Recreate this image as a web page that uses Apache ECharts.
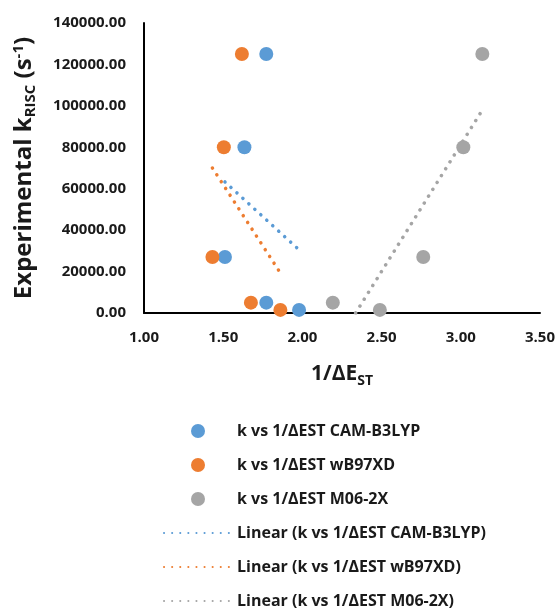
<!DOCTYPE html>
<html><head><meta charset="utf-8">
<script src="https://cdn.jsdelivr.net/npm/echarts@6/dist/echarts.min.js"></script>
<style>html,body{margin:0;padding:0;background:#fff}#c{width:560px;height:610px}</style>
</head><body><div id="c"></div>
<script>
const seriesNames = ['k vs 1/ΔEST CAM-B3LYP', 'k vs 1/ΔEST wB97XD', 'k vs 1/ΔEST M06-2X'];
const trendNames = ['Linear (k vs 1/ΔEST CAM-B3LYP)', 'Linear (k vs 1/ΔEST wB97XD)', 'Linear (k vs 1/ΔEST M06-2X)'];
const kValues = [125000, 80000, 27000, 5000, 1500];
const xCam = [1.772, 1.634, 1.511, 1.772, 1.979];
const xWb = [1.618, 1.504, 1.432, 1.675, 1.861];
const xM06 = [3.136, 3.016, 2.763, 2.192, 2.489];
const trendCamX = [1.511, 1.979], trendCamY = [63300, 30500];
const trendWbX = [1.432, 1.861], trendWbY = [70000, 19300];
const trendM06X = [2.336, 3.136], trendM06Y = [0, 98000];
const xTicks = [1.0, 1.5, 2.0, 2.5, 3.0, 3.5];
const yTicks = [0, 20000, 40000, 60000, 80000, 100000, 120000, 140000];
const colors = ['#5B9BD5', '#ED7D31', '#A5A5A5'];

const xs = [xCam, xWb, xM06];
const txs = [trendCamX, trendWbX, trendM06X];
const tys = [trendCamY, trendWbY, trendM06Y];
const font = 'Open Sans, Liberation Sans, sans-serif';
const ink = '#1a1a1a';

const series = [];
xs.forEach((arr, i) => {
  series.push({
    name: seriesNames[i], type: 'scatter', symbol: 'circle', symbolSize: 14,
    itemStyle: {color: colors[i], opacity: 1},
    data: arr.map((x, j) => [x, kValues[j]]), z: 3
  });
});
txs.forEach((arr, i) => {
  series.push({
    name: trendNames[i], type: 'line', symbol: 'none', showSymbol: false, clip: true,
    lineStyle: {color: colors[i], width: 3.5, type: [0.1, 8], cap: 'round'},
    itemStyle: {color: colors[i]},
    data: arr.map((x, j) => [x, tys[i][j]]), z: 2
  });
});

const legendData = seriesNames.map(n => ({name: n}))
  .concat(trendNames.map(n => ({name: n, itemStyle: {opacity: 0}})));

const chart = echarts.init(document.getElementById('c'), null, {renderer: 'canvas'});
chart.setOption({
  animation: false,
  backgroundColor: '#fff',
  textStyle: {fontFamily: font},
  grid: {left: 144, right: 20, top: 23, bottom: 297, containLabel: false},
  xAxis: {
    type: 'value', min: xTicks[0], max: xTicks[xTicks.length - 1], interval: 0.5,
    axisLine: {show: true, onZero: false, lineStyle: {color: '#000', width: 2}},
    axisTick: {show: false}, splitLine: {show: false},
    axisLabel: {margin: 17, fontSize: 15, fontWeight: 'bold', color: ink, fontFamily: font,
      formatter: v => v.toFixed(2)},
    name: '{a|1/ΔE}{s|ST}', nameLocation: 'middle', nameGap: 51,
    nameTextStyle: {rich: {
      a: {fontSize: 21, fontWeight: 'bold', color: ink, fontFamily: font, verticalAlign: 'top', lineHeight: 24},
      s: {fontSize: 14, fontWeight: 'bold', color: ink, fontFamily: font, verticalAlign: 'bottom', lineHeight: 14}
    }}
  },
  yAxis: {
    type: 'value', min: yTicks[0], max: yTicks[yTicks.length - 1], interval: 20000,
    axisLine: {show: true, onZero: false, lineStyle: {color: '#000', width: 2}},
    axisTick: {show: false}, splitLine: {show: false},
    axisLabel: {margin: 18, fontSize: 15, fontWeight: 'bold', color: ink, fontFamily: font,
      formatter: v => v.toFixed(2)},
    name: '{a|Experimental k}{s|RISC}{a| (s}{p|-1}{a|)}', nameLocation: 'middle', nameGap: 106,
    nameTextStyle: {rich: {
      a: {fontSize: 24, fontWeight: 'bold', color: ink, fontFamily: font, lineHeight: 27},
      s: {fontSize: 15, fontWeight: 'bold', color: ink, fontFamily: font, verticalAlign: 'bottom', lineHeight: 15},
      p: {fontSize: 15, fontWeight: 'bold', color: ink, fontFamily: font, verticalAlign: 'top', lineHeight: 15}
    }}
  },
  legend: {
    orient: 'vertical', left: 163, top: 423, bottom: -60, padding: 0,
    itemWidth: 68, itemHeight: 14, itemGap: 18,
    data: legendData,
    textStyle: {fontSize: 16, lineHeight: 16, fontWeight: 'bold', color: ink, fontFamily: font}
  },
  series: series
});
</script></body></html>
